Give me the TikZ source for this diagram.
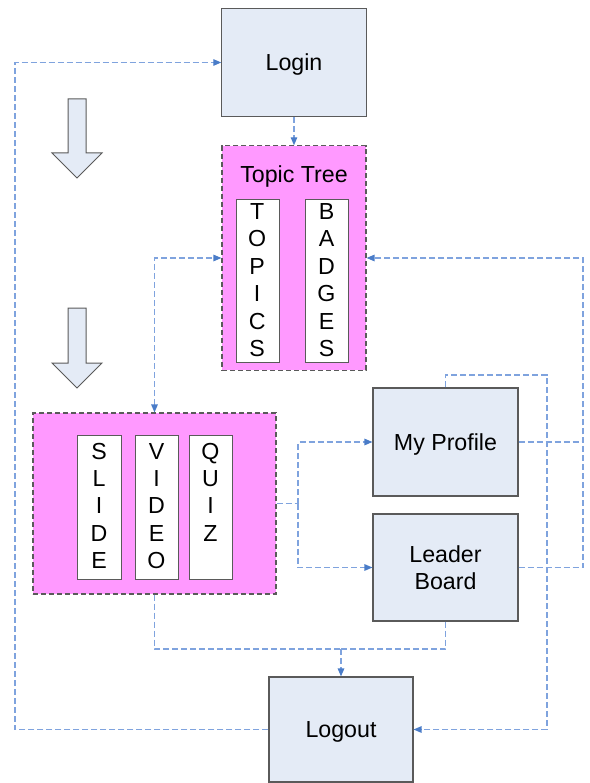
\documentclass[tikz,border=0pt]{standalone}
\usepackage{fontspec}
\setmainfont{Liberation Sans}
\usetikzlibrary{arrows.meta}
\definecolor{boxfill}{HTML}{E4EBF6}
\definecolor{boxdraw}{HTML}{5A5A5A}
\definecolor{pinkfill}{HTML}{FF99FF}
\definecolor{linec}{HTML}{7FA3DE}
\definecolor{tipc}{HTML}{4A7CC8}
\begin{document}
\begin{tikzpicture}[x=1pt,y=-1pt,
  font=\fontsize{23.2}{27.4}\selectfont,
  >={Triangle[length=8pt,width=6.5pt,color=tipc]},
  bluebox/.style={draw=boxdraw,fill=boxfill,line width=1.1pt,inner sep=0pt,align=center},
  oneline/.style={text height=16.5pt,text depth=0pt},
  pinkbox/.style={draw=boxdraw,fill=pinkfill,line width=1.1pt,dash pattern=on 5pt off 3pt,inner sep=0pt},
  colbox/.style={draw=boxdraw,fill=white,line width=1pt,inner sep=0pt},
  letter/.style={inner sep=0pt,anchor=base},
  conn/.style={draw=linec,line width=1.2pt,dash pattern=on 6pt off 3pt},
  bigarrow/.style={draw=boxdraw,fill=boxfill,line width=1pt,line join=miter}]
\useasboundingbox (0,0) rectangle (589,783);

% boxes
\node[bluebox,oneline,minimum width=144.3pt,minimum height=108pt] (login) at (294,62.5) {Login};
\node[pinkbox,minimum width=144pt,minimum height=224.3pt] (topic) at (294,258) {};
\node[letter] (topiclabel) at (294,182.5) {Topic Tree};
\node[colbox,minimum width=43pt,minimum height=162pt] (topics) at (257.5,281) {};
\node[colbox,minimum width=43pt,minimum height=162pt] (badges) at (326.5,281) {};
\foreach \l [count=\i] in {T,O,P,I,C,S}
  \node[letter] (tp\i) at (257.2,{219.5+27.4*(\i-1)}) {\l};
\foreach \l [count=\i] in {B,A,D,G,E,S}
  \node[letter] (bg\i) at (326.5,{219.5+27.4*(\i-1)}) {\l};

\node[pinkbox,minimum width=243pt,minimum height=181pt] (lower) at (154.5,503.5) {};
\node[colbox,minimum width=44pt,minimum height=144pt] (slide) at (99,507) {};
\node[colbox,minimum width=43pt,minimum height=144pt] (video) at (156.5,507) {};
\node[colbox,minimum width=43pt,minimum height=144pt] (quiz) at (210.5,507) {};
\foreach \l [count=\i] in {S,L,I,D,E}
  \node[letter] (sl\i) at (99,{459+27.4*(\i-1)}) {\l};
\foreach \l [count=\i] in {V,I,D,E,O}
  \node[letter] (vd\i) at (156.5,{459+27.4*(\i-1)}) {\l};
\foreach \l [count=\i] in {Q,U,I,Z}
  \node[letter] (qz\i) at (210.5,{459+27.4*(\i-1)}) {\l};

\node[bluebox,oneline,minimum width=145pt,minimum height=108pt] (profile) at (445.5,442) {My Profile};
\node[bluebox,minimum width=145pt,minimum height=107pt] (leader) at (445.5,567.5) {Leader\\Board};
\node[bluebox,oneline,minimum width=144pt,minimum height=105pt] (logout) at (341,729.5) {Logout};

% big hollow arrows
\draw[bigarrow] (68,99) -- (86,99) -- (86,153) -- (102,153) -- (77,178) -- (52,153) -- (68,153) -- cycle;
\draw[bigarrow] (68,308) -- (86,308) -- (86,363) -- (102,363) -- (77,388) -- (52,363) -- (68,363) -- cycle;

% helper coordinates
\coordinate (lx) at (15,0);
\coordinate (rx) at (583,0);
\coordinate (c1) at (547,375);
\coordinate (br) at (298,503.5);
\coordinate (m1) at (341,649);

% connectors
\draw[conn,->] (login.south) -- (topic.north);
\draw[conn,->] (logout.west) -- (logout.west -| lx) -- (login.west -| lx) -- (login.west);
\draw[conn,<->] (lower.north) |- (topic.west);
\draw[conn] (lower.east) -- (br);
\draw[conn,->] (br) |- (profile.west);
\draw[conn,->] (br) |- (leader.west);
\draw[conn,->] (profile.east) -- (profile.east -| rx) -- (topic.east -| rx) -- (topic.east);
\draw[conn] (leader.east) -- (leader.east -| rx) -- (profile.east -| rx);
\draw[conn,->] (profile.north) |- (c1) -- (c1 |- logout.east) -- (logout.east);
\draw[conn] (lower.south) |- (m1);
\draw[conn] (leader.south) |- (m1);
\draw[conn,->] (m1) -- (logout.north);
\end{tikzpicture}
\end{document}
